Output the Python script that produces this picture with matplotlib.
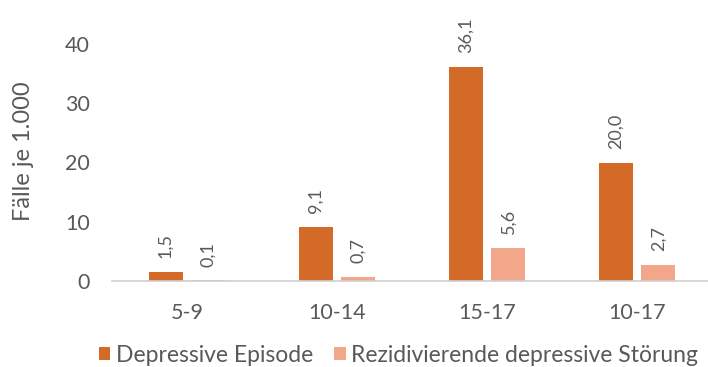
import matplotlib
matplotlib.use("Agg")
import matplotlib.pyplot as plt
import numpy as np

categories = ["5-9", "10-14", "15-17", "10-17"]
depressive_episode = [1.5, 9.1, 36.1, 20.0]
rezidivierende = [0.1, 0.7, 5.6, 2.7]
series_names = ["Depressive Episode", "Rezidivierende depressive Störung"]
y_ticks = [0, 10, 20, 30, 40]

dark = "#D36A28"
light = "#F2A68A"
text_col = "#595959"

plt.rcParams['font.family'] = ['Lato', 'DejaVu Sans']

fig = plt.figure(figsize=(7.08, 3.67), dpi=100)
ax = fig.add_axes([112 / 708, 86 / 367, 600 / 708, 237 / 367])

x = np.arange(len(categories))
w = 0.227
off = 0.143
b1 = ax.bar(x - off, depressive_episode, w, color=dark, label=series_names[0])
b2 = ax.bar(x + off, rezidivierende, w, color=light, label=series_names[1])

def fmt(v):
    return f"{v:.1f}".replace(".", ",")

for bars, vals in ((b1, depressive_episode), (b2, rezidivierende)):
    for r, v in zip(bars, vals):
        ax.annotate(fmt(v), (r.get_x() + r.get_width() / 2, v),
                    xytext=(0, 10), textcoords="offset points",
                    rotation=90, ha="center", va="bottom",
                    fontsize=13, color=text_col, annotation_clip=False)

ax.set_xlim(-0.5, len(categories) - 0.5)
ax.set_ylim(0, 40)
ax.set_yticks(y_ticks)
ax.set_xticks(x)
ax.set_xticklabels(categories)
ax.tick_params(axis="both", length=0, labelsize=15.5, colors=text_col)
ax.tick_params(axis="y", pad=16)
ax.tick_params(axis="x", pad=16)
for s in ("top", "right", "left"):
    ax.spines[s].set_visible(False)
ax.spines["bottom"].set_color("#D0D0D0")
ax.spines["bottom"].set_linewidth(1.2)

ax.set_ylabel("Fälle je 1.000", fontsize=17, color=text_col)
ax.yaxis.set_label_coords(-0.13, 0.549)

fig.legend(handles=[b1, b2], loc="center", bbox_to_anchor=(398.5 / 708, 1 - 355 / 367),
           ncol=2, frameon=False, fontsize=16.5, labelcolor=text_col,
           handlelength=0.52, handleheight=0.52, handletextpad=0.26,
           columnspacing=0.87, borderpad=0.2)

fig.savefig("out.png", dpi=100)
